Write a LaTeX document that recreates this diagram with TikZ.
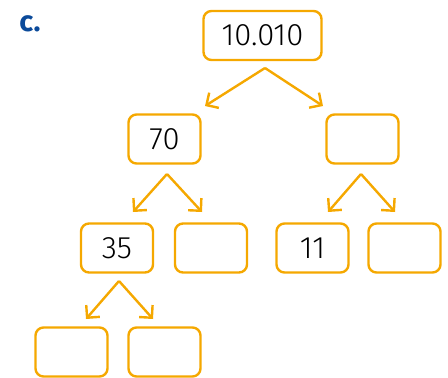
\documentclass[tikz,border=0pt]{standalone}
\usepackage{fontspec}
\setmainfont{Fira Sans Light}
\newfontfamily\labfont{Fira Sans}
\usetikzlibrary{arrows.meta}
\definecolor{org}{HTML}{F5A800}
\definecolor{lblue}{HTML}{0B4A9A}
\begin{document}
\begin{tikzpicture}[x=1pt,y=-1pt,
  box/.style={draw=org,line width=2.4pt,rounded corners=8pt,minimum width=72pt,minimum height=49pt,inner sep=0pt,font=\fontsize{31}{34}\selectfont,text=black},
  bigbox/.style={box,minimum width=118pt},
  arr/.style={draw=org,line width=2.4pt,-{Straight Barb[length=9pt,width=18pt,line width=2.4pt]}}]
\useasboundingbox (0,0) rectangle (448,378);
\node[text=lblue,font=\labfont\bfseries\fontsize{29}{30}\selectfont] (c) at (30,24) {c.};
\node[bigbox] (a) at (262.5,35.5) {10.010};
\node[box] (b1) at (164.5,139) {70};
\node[box] (b2) at (362.5,139) {};
\node[box] (c1) at (117,248) {35};
\node[box] (c2) at (211,248) {};
\node[box] (c3) at (312.5,248) {11};
\node[box] (c4) at (404.5,248) {};
\node[box] (d1) at (71.5,352) {};
\node[box] (d2) at (164.5,352) {};
\coordinate (pa) at (265,68);
\coordinate (pb) at (167,174);
\coordinate (pc) at (361,174);
\coordinate (pd) at (119,281);
\coordinate (ta1) at (205,106);
\coordinate (ta2) at (323,106);
\coordinate (tb1) at (133,212);
\coordinate (tb2) at (202,212);
\coordinate (tc1) at (328,212);
\coordinate (tc2) at (395,212);
\coordinate (td1) at (86,319);
\coordinate (td2) at (153,319);
\draw[arr] (pa) -- (ta1);
\draw[arr] (pa) -- (ta2);
\draw[arr] (pb) -- (tb1);
\draw[arr] (pb) -- (tb2);
\draw[arr] (pc) -- (tc1);
\draw[arr] (pc) -- (tc2);
\draw[arr] (pd) -- (td1);
\draw[arr] (pd) -- (td2);
\end{tikzpicture}
\end{document}
